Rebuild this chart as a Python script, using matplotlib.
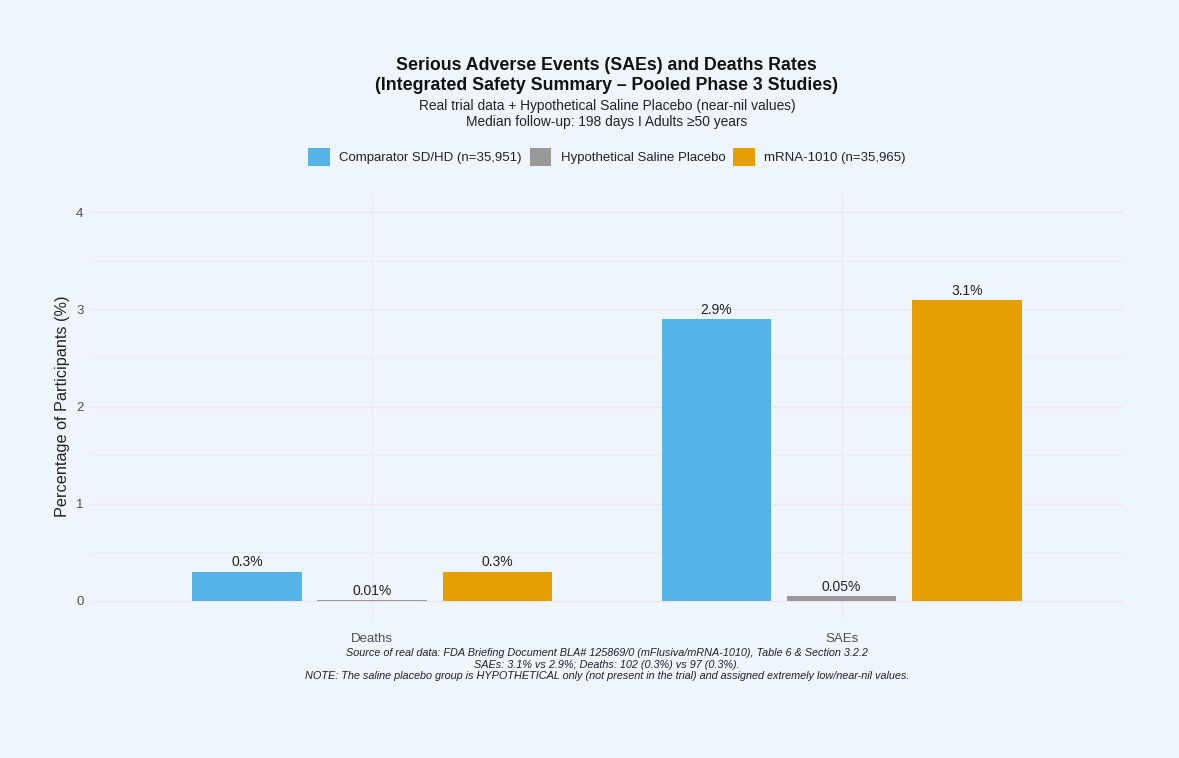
import matplotlib
matplotlib.use("Agg")
import matplotlib.pyplot as plt
import numpy as np
from matplotlib.patches import Patch
from matplotlib.ticker import MultipleLocator

# Data
categories = ["Deaths", "SAEs"]
groups = ["Comparator SD/HD (n=35,951)", "Hypothetical Saline Placebo", "mRNA-1010 (n=35,965)"]
comparator = [0.3, 2.9]
saline = [0.01, 0.05]
mrna = [0.3, 3.1]
value_labels = [["0.3%", "2.9%"], ["0.01%", "0.05%"], ["0.3%", "3.1%"]]
colors = ["#56B4E9", "#999999", "#E69F00"]

title = ("Serious Adverse Events (SAEs) and Deaths Rates\n"
         "(Integrated Safety Summary \u2013 Pooled Phase 3 Studies)")
subtitle = ("Real trial data + Hypothetical Saline Placebo (near-nil values)\n"
            "Median follow-up: 198 days I Adults \u226550 years")
caption = ("Source of real data: FDA Briefing Document BLA# 125869/0 (mFlusiva/mRNA-1010), Table 6 & Section 3.2.2\n"
           "SAEs: 3.1% vs 2.9%; Deaths: 102 (0.3%) vs 97 (0.3%).\n"
           "NOTE: The saline placebo group is HYPOTHETICAL only (not present in the trial) and assigned extremely low/near-nil values.")

BG = "#EEF5FD"
plt.rcParams["font.family"] = ["Liberation Sans", "DejaVu Sans"]

fig = plt.figure(figsize=(11.79, 7.58), dpi=100, facecolor=BG)
ax = fig.add_axes([0.0767, 0.182, 0.8760, 0.5634], facecolor=BG)

x = np.arange(1, len(categories) + 1)
dodge = 0.8 / 3
width = 0.7 / 3
series = [comparator, saline, mrna]
for i, vals in enumerate(series):
    pos = x + (i - 1) * dodge
    ax.bar(pos, vals, width=width, color=colors[i], zorder=3)
    for px, v, lab in zip(pos, vals, value_labels[i]):
        ax.annotate(lab, (px, v), xytext=(0, 1.5), textcoords="offset points",
                    ha="center", va="bottom", fontsize=10, color="#222222", zorder=4)

ax.set_xlim(0.4, 2.6)
ax.set_ylim(-0.2, 4.2)
ax.set_xticks(x)
ax.set_xticklabels(categories)
ax.yaxis.set_major_locator(MultipleLocator(1))
ax.yaxis.set_minor_locator(MultipleLocator(0.5))
ax.grid(axis="y", which="major", color="#F1E3EC", lw=0.9, zorder=0)
ax.grid(axis="y", which="minor", color="#E9EBF1", lw=0.6, zorder=0)
ax.grid(axis="x", which="major", color="#E3E7EE", lw=0.6, zorder=0)
for s in ax.spines.values():
    s.set_visible(False)
ax.tick_params(axis="both", which="both", length=0, colors="#4D4D4D", labelsize=9.5)
ax.tick_params(axis="y", pad=5)
ax.tick_params(axis="x", pad=9)
ax.set_ylabel("Percentage of Participants (%)", fontsize=11.7, color="#222222", labelpad=4)

cx = 0.0767 + 0.8760 / 2
fig.text(cx, 1 - 75.5 / 758, title, ha="center", va="center", fontsize=12.8,
         fontweight="bold", linespacing=1.22, color="#111111")
fig.text(cx, 1 - 114 / 758, subtitle, ha="center", va="center", fontsize=9.9,
         linespacing=1.2, color="#222222")
fig.text(cx, 1 - 664.5 / 758, caption, ha="center", va="center", fontsize=7.85,
         style="italic", linespacing=1.2, color="#222222")

handles = [Patch(facecolor=c, edgecolor="none") for c in colors]
fig.legend(handles, groups, loc="center", bbox_to_anchor=(cx, 1 - 157 / 758), ncol=3,
           frameon=False, fontsize=9.5, handlelength=1.65, handleheight=1.65,
           handletextpad=0.7, columnspacing=0.6, labelcolor="#222222")

plt.savefig("out.png", dpi=100, facecolor=BG)
